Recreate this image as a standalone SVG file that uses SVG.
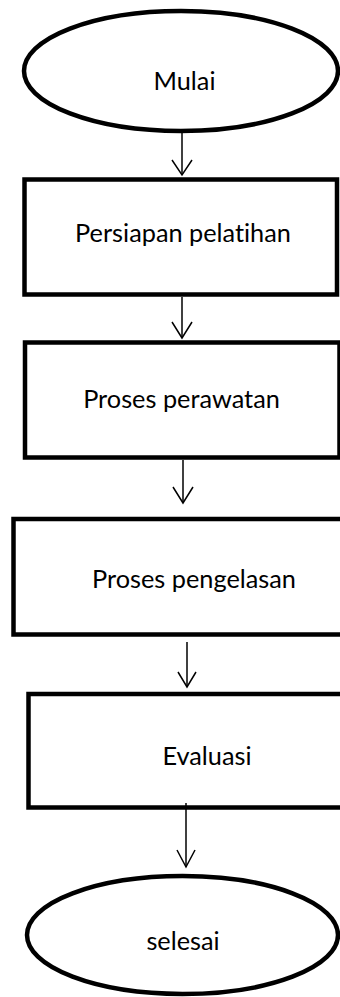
<svg xmlns="http://www.w3.org/2000/svg" width="340" height="997" viewBox="0 0 340 997">
<defs>
<style>
.shape{fill:#fff;stroke:#000;stroke-width:4.5}
.label{font-family:Lato,"Open Sans","Liberation Sans",sans-serif;font-size:25.3px;fill:#000;text-anchor:middle;font-variant-ligatures:none;font-feature-settings:"liga" 0}
.conn line,.conn polyline{stroke:#000;stroke-width:1.5;fill:none}
</style>
</defs>
<rect width="340" height="997" fill="#fff"/>
<g id="n-mulai">
<ellipse class="shape" cx="181" cy="71" rx="157" ry="60"/>
<text class="label" x="184.5" y="90">Mulai</text>
</g>
<g id="n-persiapan">
<rect class="shape" x="24.5" y="179.5" width="312.5" height="115"/>
<text class="label" x="183" y="242">Persiapan pelatihan</text>
</g>
<g id="n-perawatan">
<rect class="shape" x="25" y="342.5" width="314.5" height="115"/>
<text class="label" x="181.5" y="408">Proses perawatan</text>
</g>
<g id="n-pengelasan">
<rect class="shape" x="13.5" y="519" width="335" height="115.5"/>
<text class="label" x="194" y="588">Proses pengelasan</text>
</g>
<g id="n-evaluasi">
<rect class="shape" x="28.5" y="694" width="320" height="113.5"/>
<text class="label" x="207" y="765">Evaluasi</text>
</g>
<g id="n-selesai">
<ellipse class="shape" cx="182.5" cy="935" rx="155.5" ry="59"/>
<text class="label" x="183" y="950">selesai</text>
</g>
<g id="connectors" class="conn">
<line x1="182" y1="131" x2="182" y2="175"/>
<polyline points="172,160 182,175 192,160"/>
<line x1="182" y1="297" x2="182" y2="338"/>
<polyline points="172,322 182,338 192,322"/>
<line x1="183" y1="460" x2="183" y2="503"/>
<polyline points="173,487 183,503 193,487"/>
<line x1="187" y1="642" x2="187" y2="687"/>
<polyline points="178,672 187,687 196,672"/>
<line x1="186" y1="803" x2="186" y2="867"/>
<polyline points="177,850 186,867 195,850"/>
</g>
</svg>
